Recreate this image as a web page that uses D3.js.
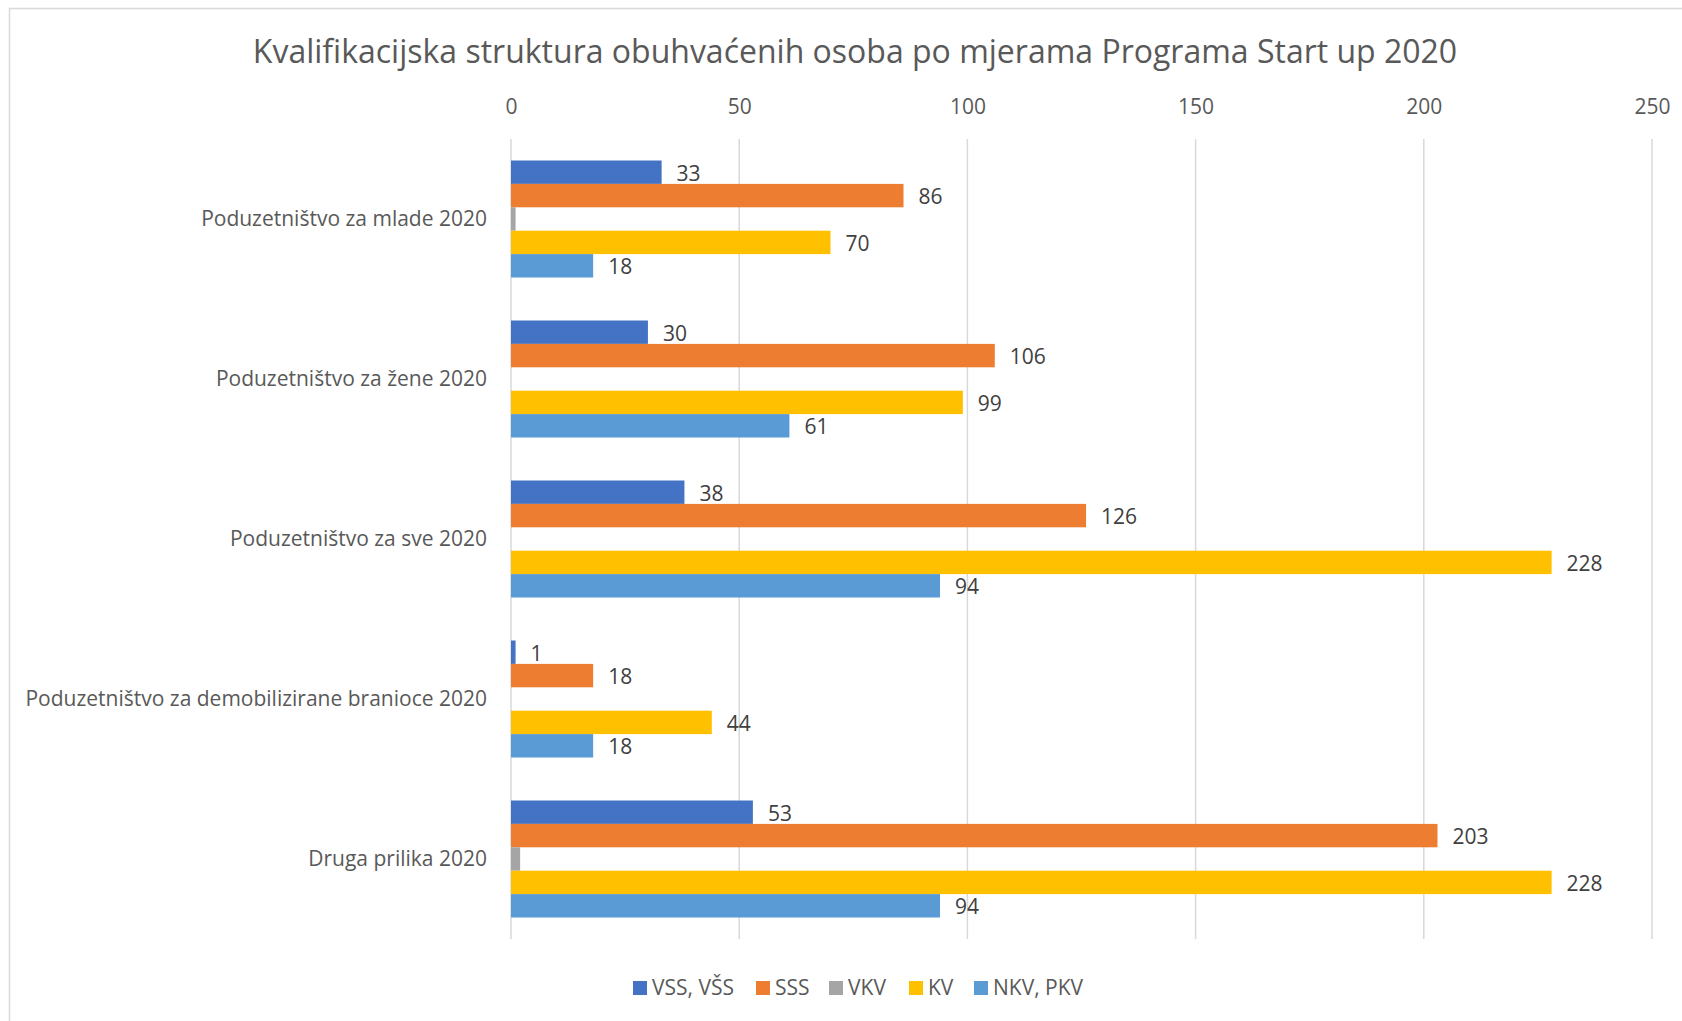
<!DOCTYPE html>
<html>
<head>
<meta charset="utf-8">
<script src="https://cdn.jsdelivr.net/npm/d3@7"></script>
<style>
  body { margin: 0; background: #fff; }
  text { font-family: "Open Sans", sans-serif; }
</style>
</head>
<body>
<svg width="1682" height="1021"></svg>
<script>
// data
const categories = [
  "Poduzetništvo za mlade 2020",
  "Poduzetništvo za žene 2020",
  "Poduzetništvo za sve 2020",
  "Poduzetništvo za demobilizirane branioce 2020",
  "Druga prilika 2020"
];
const seriesNames = ["VSS, VŠS", "SSS", "VKV", "KV", "NKV, PKV"];
const seriesColors = ["#4472C4", "#ED7D31", "#A5A5A5", "#FFC000", "#5B9BD5"];
const vss = [33, 30, 38, 1, 53];
const sss = [86, 106, 126, 18, 203];
const vkv = [1, 0, 0, 0, 2];
const kv = [70, 99, 228, 44, 228];
const nkv = [18, 61, 94, 18, 94];
const xTicks = [0, 50, 100, 150, 200, 250];
const showLabel = [true, true, false, true, true];

const values = [vss, sss, vkv, kv, nkv];

const svg = d3.select("svg");

// chart frame (cut off on the right/bottom like the screenshot)
svg.append("path")
  .attr("d", "M9.5,1021 V8.5 H1682")
  .attr("fill", "none")
  .attr("stroke", "#d9d9d9")
  .attr("stroke-width", 1.5);

svg.append("text")
  .attr("x", 855)
  .attr("y", 63)
  .attr("text-anchor", "middle")
  .attr("fill", "#595959")
  .style("font-size", "32px")
  .text("Kvalifikacijska struktura obuhvaćenih osoba po mjerama Programa Start up 2020");

const x = d3.scaleLinear().domain([0, 250]).range([511, 1652]);
const y = d3.scaleBand().domain(categories).range([139, 939])
  .paddingInner(43 / 160).paddingOuter(43 / 320);
const ys = d3.scaleBand().domain(d3.range(seriesNames.length)).range([0, y.bandwidth()]);

// gridlines
svg.append("g")
  .selectAll("line")
  .data(xTicks)
  .join("line")
  .attr("x1", d => x(d)).attr("x2", d => x(d))
  .attr("y1", 139).attr("y2", 939)
  .attr("stroke", "#d9d9d9")
  .attr("stroke-width", 1.5);

// top axis
const xAxis = svg.append("g")
  .attr("transform", "translate(0,107)")
  .call(d3.axisTop(x).tickValues(xTicks).tickSize(0).tickPadding(0));
xAxis.select(".domain").remove();
xAxis.selectAll("text")
  .attr("fill", "#595959")
  .attr("dy", "0.35em")
  .style("font-size", "21px")
  .style("font-family", "Open Sans, sans-serif");

// category axis
const yAxis = svg.append("g")
  .attr("transform", "translate(487,0)")
  .call(d3.axisLeft(y).tickSize(0).tickPadding(0));
yAxis.select(".domain").remove();
yAxis.selectAll("text")
  .attr("fill", "#595959")
  .style("font-size", "21px")
  .style("font-family", "Open Sans, sans-serif");

// bars
const groups = svg.append("g")
  .selectAll("g")
  .data(categories)
  .join("g")
  .attr("transform", d => `translate(0,${y(d)})`);

groups.each(function(cat, ci) {
  const g = d3.select(this);
  const rows = values.map((v, si) => ({ si: si, v: v[ci] }));
  g.selectAll("rect")
    .data(rows)
    .join("rect")
    .attr("x", x(0))
    .attr("y", d => ys(d.si))
    .attr("width", d => x(d.v) - x(0))
    .attr("height", ys.bandwidth())
    .attr("fill", d => seriesColors[d.si]);
  g.selectAll("text")
    .data(rows.filter(d => showLabel[d.si]))
    .join("text")
    .attr("x", d => x(d.v) + 15)
    .attr("y", d => ys(d.si) + ys.bandwidth() / 2 + 1)
    .attr("dy", "0.35em")
    .attr("fill", "#404040")
    .style("font-size", "21px")
    .text(d => d.v);
});

// legend
const legendX = [633, 756, 829, 909, 974];
const legend = svg.append("g")
  .selectAll("g")
  .data(seriesNames)
  .join("g")
  .attr("transform", (d, i) => `translate(${legendX[i]},988)`);
legend.append("rect")
  .attr("x", 0).attr("y", -7)
  .attr("width", 14).attr("height", 14)
  .attr("fill", (d, i) => seriesColors[i]);
legend.append("text")
  .attr("x", 19)
  .attr("dy", "0.35em")
  .attr("fill", "#595959")
  .style("font-size", "21px")
  .text(d => d);
</script>
</body>
</html>
